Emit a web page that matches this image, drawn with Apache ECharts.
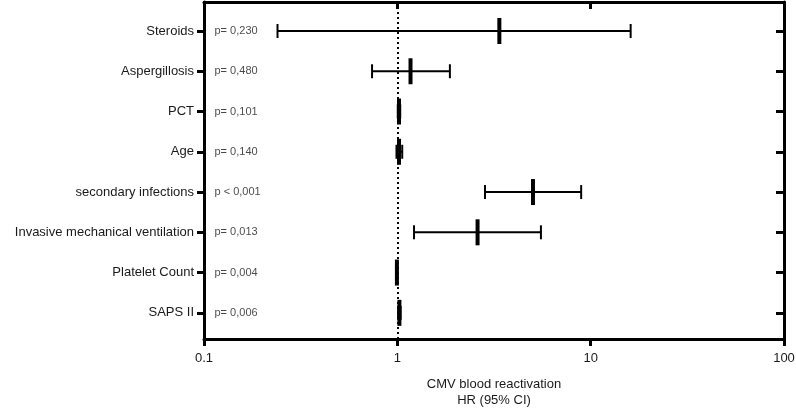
<!DOCTYPE html>
<html>
<head>
<meta charset="utf-8">
<script src="https://cdn.jsdelivr.net/npm/echarts@6/dist/echarts.min.js"></script>
<style>
  html, body { margin: 0; padding: 0; background: #fff; }
  #chart { width: 796px; height: 410px; }
</style>
</head>
<body>
<div id="chart"></div>
<script>
var categories = ['Steroids', 'Aspergillosis', 'PCT', 'Age', 'secondary infections',
  'Invasive mechanical ventilation', 'Platelet Count', 'SAPS II'];
var hr    = [3.37, 1.17, 1.02, 1.02, 5.03, 2.60, 0.995, 1.025];
var lower = [0.24, 0.74, 1.005, 0.99, 2.84, 1.22, 0.99, 1.01];
var upper = [16.1, 1.87, 1.035, 1.06, 8.93, 5.53, 1.0, 1.04];
var pLabels = ['p= 0,230', 'p= 0,480', 'p= 0,101', 'p= 0,140', 'p < 0,001',
  'p= 0,013', 'p= 0,004', 'p= 0,006'];
var xTicks = [0.1, 1, 10, 100];

var myChart = echarts.init(document.getElementById('chart'));
var font = '"Liberation Sans", Arial, sans-serif';
var txt = '#1a1a1a';
var idx = categories.map(function (c, i) { return i; });

var ciData = idx.map(function (i) { return [i, lower[i], hr[i], upper[i]]; });
var pData = idx.map(function (i) { return [0.1, i]; });

// whisker line + caps + thick HR bar
function renderCI(params, api) {
  var row = api.value(0);
  var lo = api.coord([api.value(1), row]);
  var mid = api.coord([api.value(2), row]);
  var hi = api.coord([api.value(3), row]);
  var y = mid[1];
  var st = { stroke: '#000', lineWidth: 2 };
  return {
    type: 'group',
    children: [
      { type: 'line', shape: { x1: lo[0], y1: y, x2: hi[0], y2: y }, style: st },
      { type: 'line', shape: { x1: lo[0], y1: y - 7, x2: lo[0], y2: y + 7 }, style: st },
      { type: 'line', shape: { x1: hi[0], y1: y - 7, x2: hi[0], y2: y + 7 }, style: st },
      { type: 'rect', shape: { x: mid[0] - 2, y: y - 13, width: 4, height: 26 }, style: { fill: '#000' } }
    ]
  };
}

var yBase = {
  type: 'value',
  min: -0.72,
  max: 7.65,
  inverse: true,
  splitLine: { show: false }
};

option = {
  animation: false,
  grid: { left: 204, right: 12, top: 2, bottom: 71, outerBoundsMode: 'none' },
  xAxis: [
    {
      type: 'log',
      logBase: 10,
      min: 0.1,
      max: 100,
      position: 'bottom',
      name: 'CMV blood reactivation\nHR (95% CI)',
      nameLocation: 'middle',
      nameGap: 37,
      nameTextStyle: { fontFamily: font, fontSize: 13, color: txt, lineHeight: 16 },
      axisLine: { onZero: false, lineStyle: { color: '#000', width: 3 } },
      axisTick: { length: 7, lineStyle: { color: '#000', width: 3 }, customValues: xTicks },
      axisLabel: {
        fontFamily: font, fontSize: 13, color: txt, margin: 13,
        customValues: xTicks,
        formatter: function (v) { return String(v); }
      },
      splitLine: { show: false },
      minorTick: { show: false }
    },
    {
      type: 'log',
      logBase: 10,
      min: 0.1,
      max: 100,
      position: 'top',
      axisLine: { onZero: false, lineStyle: { color: '#000', width: 3 } },
      axisTick: { inside: true, length: 7, lineStyle: { color: '#000', width: 3 }, customValues: [1, 10] },
      axisLabel: { show: false },
      splitLine: { show: false }
    }
  ],
  yAxis: [
    Object.assign({}, yBase, {
      position: 'left',
      axisLine: { show: true, onZero: false, lineStyle: { color: '#000', width: 3 } },
      axisTick: { show: true, length: 7, lineStyle: { color: '#000', width: 3 }, customValues: idx },
      axisLabel: {
        fontFamily: font, fontSize: 13, color: txt, margin: 10,
        customValues: idx,
        formatter: function (v) { return categories[Math.round(v)]; }
      }
    }),
    Object.assign({}, yBase, {
      position: 'right',
      axisLine: { show: true, onZero: false, lineStyle: { color: '#000', width: 3 } },
      axisTick: { show: true, inside: true, length: 8, lineStyle: { color: '#000', width: 3 }, customValues: idx },
      axisLabel: { show: false }
    })
  ],
  series: [
    {
      type: 'custom',
      renderItem: renderCI,
      encode: { x: [1, 2, 3], y: 0 },
      data: ciData,
      z: 3,
      markLine: {
        silent: true,
        symbol: 'none',
        label: { show: false },
        lineStyle: { color: '#000', width: 2, type: [2, 3] },
        data: [{ xAxis: 1 }]
      }
    },
    {
      type: 'scatter',
      data: pData,
      symbolSize: 1,
      clip: false,
      itemStyle: { color: 'rgba(0,0,0,0)' },
      labelLayout: { hideOverlap: false },
      label: {
        show: true,
        position: 'right',
        distance: 10,
        fontFamily: font,
        fontSize: 11,
        color: txt,
        formatter: function (p) { return pLabels[p.dataIndex]; }
      }
    }
  ]
};

myChart.setOption(option);
</script>
</body>
</html>
